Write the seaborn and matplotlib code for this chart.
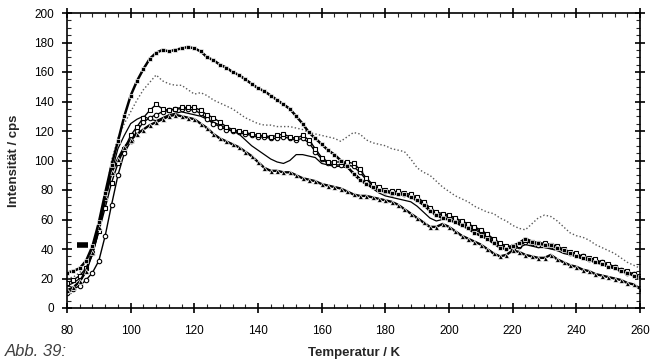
import numpy as np
import pandas as pd
import matplotlib
matplotlib.use("Agg")
import matplotlib.pyplot as plt
import seaborn as sns
from matplotlib.ticker import MultipleLocator

# Temperature axis (K), every 2 K
temperature = list(range(80, 262, 2))

filled_squares = [
    24, 25, 27, 32, 42, 58, 78, 97, 113, 130,
    144, 154, 162, 169, 173, 175, 174, 175, 176, 177,
    176, 174, 170, 168, 165, 163, 160, 158, 155, 152,
    149, 147, 144, 141, 138, 135, 130, 125, 119, 115,
    111, 107, 104, 100, 96, 91, 87, 84, 82, 80,
    79, 78, 77, 77, 75, 73, 70, 66, 63, 61,
    60, 58, 56, 54, 51, 49, 47, 44, 41, 40,
    42, 44, 47, 45, 44, 43, 43, 41, 39, 37,
    35, 34, 33, 31, 30, 28, 27, 25, 24, 22,
    21]

dotted = [
    20, 21, 24, 29, 40, 55, 75, 100, 115, 125,
    133, 141, 148, 153, 158, 154, 152, 151, 151, 148,
    145, 146, 144, 141, 139, 137, 135, 132, 129, 127,
    125, 124, 124, 123, 123, 123, 122, 121, 119, 118,
    117, 116, 115, 113, 116, 119, 118, 114, 112, 111,
    110, 108, 107, 106, 101, 95, 92, 90, 86, 82,
    79, 76, 74, 72, 69, 67, 65, 64, 61, 59,
    56, 54, 53, 57, 61, 63, 62, 59, 55, 51,
    49, 48, 46, 43, 41, 39, 37, 34, 31, 29,
    27]

open_squares = [
    17, 19, 22, 27, 37, 52, 68, 85, 98, 108,
    117, 123, 129, 134, 138, 135, 134, 135, 136, 136,
    136, 134, 131, 129, 126, 123, 121, 120, 119, 118,
    117, 117, 116, 117, 118, 116, 115, 117, 114, 108,
    102, 99, 99, 99, 99, 98, 94, 88, 84, 82,
    80, 79, 79, 78, 77, 75, 72, 68, 65, 64,
    63, 61, 59, 57, 55, 53, 50, 47, 44, 42,
    42, 43, 46, 45, 44, 44, 43, 42, 40, 38,
    37, 35, 34, 33, 31, 30, 28, 26, 25, 23,
    22]

thin_line = [
    15, 17, 20, 26, 36, 52, 72, 92, 108, 117,
    125, 128, 130, 128, 127, 129, 131, 132, 133, 132,
    131, 130, 128, 126, 124, 122, 120, 118, 114, 110,
    107, 104, 101, 99, 98, 100, 104, 104, 103, 102,
    98, 97, 96, 96, 95, 92, 88, 84, 81, 78,
    76, 75, 74, 73, 72, 69, 65, 61, 59, 60,
    60, 59, 57, 55, 53, 51, 48, 45, 43, 41,
    40, 41, 43, 42, 41, 41, 40, 39, 37, 36,
    35, 33, 32, 31, 30, 29, 27, 26, 24, 23,
    21]

triangles = [
    12, 14, 18, 25, 38, 55, 75, 92, 101, 109,
    114, 118, 121, 124, 126, 128, 130, 131, 130, 129,
    128, 125, 122, 118, 115, 113, 111, 109, 106, 103,
    99, 95, 93, 93, 92, 92, 90, 88, 87, 86,
    84, 83, 82, 81, 79, 77, 76, 76, 75, 74,
    73, 72, 70, 67, 64, 61, 58, 55, 55, 57,
    55, 52, 49, 47, 45, 43, 40, 37, 35, 36,
    39, 38, 36, 35, 34, 34, 36, 33, 31, 29,
    28, 26, 25, 23, 22, 21, 20, 19, 17, 16,
    13]

open_circles = [
    10, 13, 15, 19, 24, 32, 49, 70, 90, 105,
    113, 120, 126, 129, 131, 133, 134, 135, 135, 135,
    134, 132, 128, 125, 123, 121, 120, 119, 118, 117,
    116, 116, 115, 115, 116, 115, 114, 115, 112, 106,
    101, 98, 97, 97, 97, 96, 92, 87, 83, 81,
    79, 78, 78, 77, 76, 74, 71, 67, 64, 63,
    62, 60, 58, 56, 54, 52, 49, 46, 43, 41,
    41, 42, 45, 44, 43, 43, 42, 41, 39, 37,
    36, 35, 33, 32, 31, 29, 28, 26, 24, 23,
    21]

# short step artefact near 84 K
step_t = [83, 86.5]
step_v = [43, 43]

x_ticks = [80, 100, 120, 140, 160, 180, 200, 220, 240, 260]
y_ticks = [0, 20, 40, 60, 80, 100, 120, 140, 160, 180, 200]

sns.set_style("ticks")
plt.rcParams['font.family'] = ['Liberation Sans', 'DejaVu Sans']

fig = plt.figure(figsize=(6.66, 3.6), dpi=100)
ax = fig.add_axes([67/666, 1 - 308/360, (640 - 67)/666, (308 - 13)/360])

common = dict(ax=ax, color='black', legend=False)
sns.lineplot(x=temperature, y=dotted, linestyle=(0, (1, 1.6)), linewidth=1.0,
             color='0.35', ax=ax, legend=False)
sns.lineplot(x=temperature, y=thin_line, linewidth=0.9, **common)
sns.lineplot(x=temperature, y=open_circles, linewidth=1.0, marker='o',
             markersize=3.2, markerfacecolor='white', markeredgecolor='black',
             markeredgewidth=0.8, **common)
sns.lineplot(x=temperature, y=open_squares, linewidth=1.0, marker='s',
             markersize=3.2, markerfacecolor='white', markeredgecolor='black',
             markeredgewidth=0.8, **common)
sns.lineplot(x=temperature, y=triangles, linewidth=1.7, marker='^',
             markersize=3.6, markeredgewidth=0.5, **common)
sns.lineplot(x=temperature, y=filled_squares, linewidth=1.8, marker='s',
             markersize=3.2, markeredgewidth=0.5, **common)
sns.lineplot(x=step_t, y=step_v, linewidth=4, solid_capstyle='butt', **common)

ax.set_xlim(80, 260)
ax.set_ylim(0, 200)
ax.set_xticks(x_ticks)
ax.set_yticks(y_ticks)
ax.xaxis.set_minor_locator(MultipleLocator(4))
ax.yaxis.set_minor_locator(MultipleLocator(5))
ax.tick_params(which='major', direction='inout', length=7, width=1.2,
               top=True, right=True, labeltop=False, labelright=False,
               labelsize=8.5, colors='black')
ax.tick_params(axis='x', which='major', pad=9)
ax.tick_params(axis='y', which='major', pad=6)
ax.tick_params(which='minor', direction='in', length=3, width=0.8,
               top=True, right=True)
for sp in ax.spines.values():
    sp.set_visible(True)
    sp.set_linewidth(1.2)
    sp.set_color('black')

ax.set_xlabel('Temperatur / K', fontsize=9.5, fontweight='bold', labelpad=7)
ax.set_ylabel('Intensität / cps', fontsize=9.5, fontweight='bold', labelpad=10)

fig.text(0.008, 0.004, 'Abb. 39:', fontsize=12, style='italic',
         color='0.25', va='bottom', ha='left')

fig.savefig('out.png', dpi=100)
